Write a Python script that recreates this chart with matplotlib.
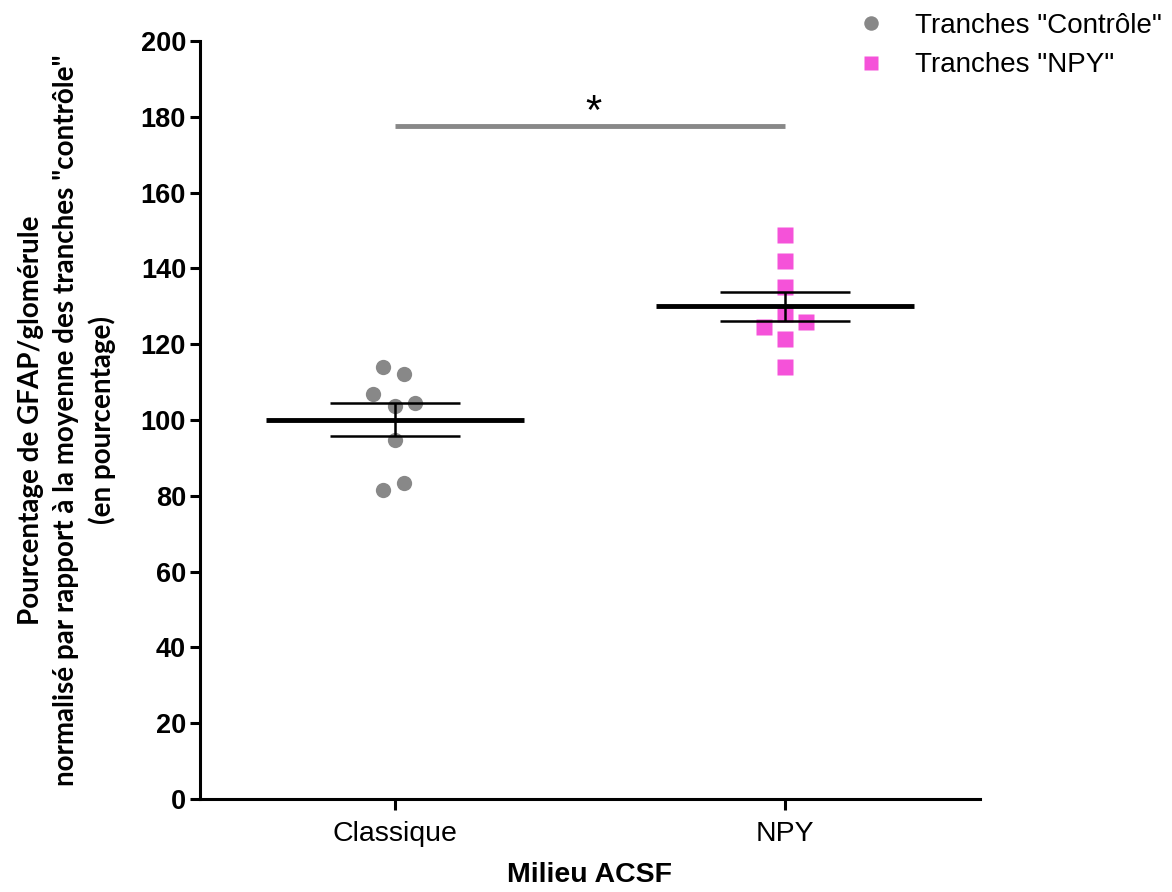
import numpy as np
import matplotlib
matplotlib.use("Agg")
import matplotlib.pyplot as plt

# valeurs
groups = ["Classique", "NPY"]
ctrl_vals = [114.0, 112.1, 106.9, 103.7, 104.5, 94.7, 81.5, 83.4]
npy_vals = [148.8, 141.9, 135.1, 128.0, 124.6, 125.9, 121.5, 114.0]
means = [100.0, 130.0]
sem_low = [95.7, 126.1]
sem_high = [104.5, 133.8]
sig_level = 177.6

# decalages horizontaux des points (comme dans Prism)
ctrl_dx = [-0.03, 0.023, -0.056, 0.0, 0.051, 0.0, -0.03, 0.023]
npy_dx = [0.0, 0.0, 0.0, 0.0, -0.054, 0.054, 0.0, 0.0]

gray = "#888888"
pink = "#f552d9"

fig = plt.figure(figsize=(11.72, 8.92), dpi=100)
ax = fig.add_axes([0.1706, 0.1043, 0.6655, 0.8497])

xs = np.arange(1, len(groups) + 1)

ax.plot(xs[0] + np.array(ctrl_dx), ctrl_vals, "o", color=gray, ms=11,
        mec="none", label='Tranches "Contrôle"', zorder=2)
ax.plot(xs[1] + np.array(npy_dx), npy_vals, "s", color=pink, ms=11,
        mec="none", label='Tranches "NPY"', zorder=2)

for i, x in enumerate(xs):
    ax.hlines(means[i], x - 0.33, x + 0.33, color="black", lw=3.5, zorder=3)
    ax.hlines([sem_low[i], sem_high[i]], x - 0.167, x + 0.167, color="black", lw=1.8, zorder=3)
    ax.vlines(x, sem_low[i], sem_high[i], color="black", lw=1.8, zorder=3)

# barre de significativite
ax.hlines(sig_level, xs[0], xs[1], color=gray, lw=3.5)
ax.text((xs[0] + xs[1]) / 2 + 0.01, sig_level + 3.5, "*", ha="center", va="center",
        fontsize=30, fontfamily="Liberation Sans")

ax.set_xlim(0.5, 2.5)
ax.set_ylim(0, 200)
ax.set_yticks(np.arange(0, 201, 20))
ax.set_xticks(xs)
ax.set_xticklabels(groups, fontsize=20.5, fontfamily="Liberation Sans")
for lab in ax.get_yticklabels():
    lab.set_fontsize(19.5)
    lab.set_fontweight("bold")
    lab.set_fontfamily("Liberation Sans")

for s in ["top", "right"]:
    ax.spines[s].set_visible(False)
for s in ["left", "bottom"]:
    ax.spines[s].set_linewidth(2.2)
ax.tick_params(axis="both", width=2.2, length=7, pad=3)
ax.tick_params(axis="x", length=8, pad=8)

ax.set_xlabel("Milieu ACSF", fontsize=20.5, fontweight="bold",
              fontfamily="Liberation Sans", labelpad=11)
ax.set_ylabel('Pourcentage de GFAP/glomérule\n'
              'normalisé par rapport à la moyenne des tranches "contrôle"\n'
              '(en pourcentage)', fontsize=20, fontweight="bold",
              fontfamily="Lato", labelpad=18, linespacing=1.42)

fig.legend(loc="upper right", bbox_to_anchor=(1.013, 1.014), frameon=False,
           prop={"family": "Liberation Sans", "size": 20},
           handletextpad=0.6, labelspacing=0.5, markerscale=0.95)

fig.savefig("out.png", dpi=100)
